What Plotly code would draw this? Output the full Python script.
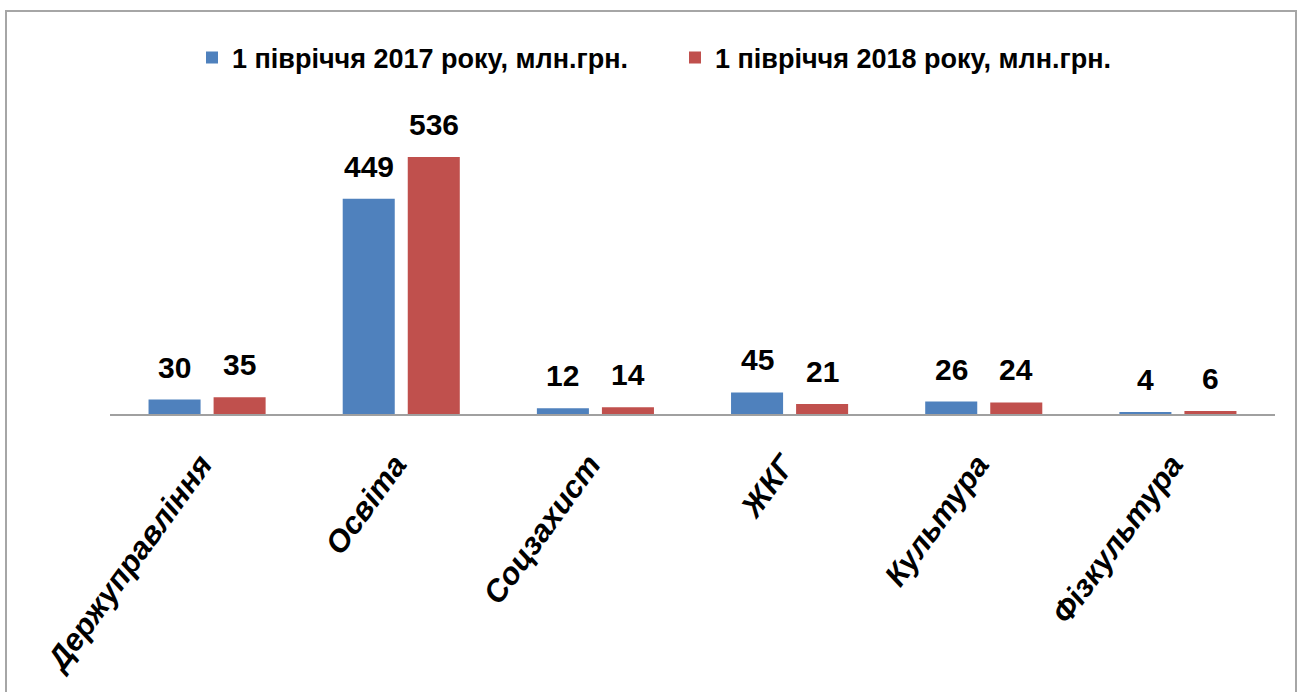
import plotly.graph_objects as go

categories = ["Держуправління", "Освіта", "Соцзахист", "ЖКГ", "Культура", "Фізкультура"]
series_2017 = [30, 449, 12, 45, 26, 4]
series_2018 = [35, 536, 14, 21, 24, 6]
name_2017 = "1 півріччя 2017 року, млн.грн."
name_2018 = "1 півріччя 2018 року, млн.грн."

W, H = 1302, 692
L, R, T, B = 110, 27, 100, 278
pw, ph = W - L - R, H - T - B

fig = go.Figure()
fig.add_trace(go.Bar(x=categories, y=series_2017, name=name_2017,
                     marker=dict(color="#4F81BD", line=dict(width=0))))
fig.add_trace(go.Bar(x=categories, y=series_2018, name=name_2018,
                     marker=dict(color="#C0504D", line=dict(width=0))))

label_font = dict(family="Liberation Sans, Arial, sans-serif", size=30, color="#000000", weight="bold")
slot = pw / len(categories) * (1 - 0.33) / 2
for vals, sh in ((series_2017, -slot / 2), (series_2018, slot / 2)):
    for c, v in zip(categories, vals):
        fig.add_annotation(x=c, y=v, text=str(v), showarrow=False, xshift=sh, yshift=14,
                           yanchor="bottom", font=label_font)

# outer border
fig.add_shape(type="rect", xref="paper", yref="paper",
              x0=(6 - L) / pw, x1=(1296 - L) / pw,
              y0=(H - B - 720) / ph, y1=(H - B - 11) / ph,
              line=dict(color="#A6A6A6", width=2), layer="below")

fig.update_layout(
    width=W, height=H,
    margin=dict(l=L, r=R, t=T, b=B, autoexpand=False),
    paper_bgcolor="white", plot_bgcolor="white",
    barmode="group", bargap=0.33, bargroupgap=0.2,
    showlegend=True,
    legend=dict(orientation="h", x=(192 - L) / pw, xanchor="left", y=(H - B - 58) / ph, yanchor="middle",
                font=dict(family="Liberation Sans, Arial, sans-serif", size=27, color="#000000", weight="bold"),
                itemwidth=30, traceorder="normal", entrywidth=438, entrywidthmode="pixels"),
    xaxis=dict(showline=True, linecolor="#A0A0A0", linewidth=2, ticks="", showgrid=False,
               tickangle=-54, automargin=False, ticklabelstandoff=18, ticklabelshift=-6,
               tickfont=dict(family="Liberation Sans, Arial, sans-serif", size=31, color="#000000",
                             weight="bold", style="italic")),
    yaxis=dict(visible=False, range=[0, ph / (257 / 536)], showgrid=False, zeroline=False),
)

fig.write_html("out.html", config={"displayModeBar": False},
               post_script="document.body.style.margin='0';")
